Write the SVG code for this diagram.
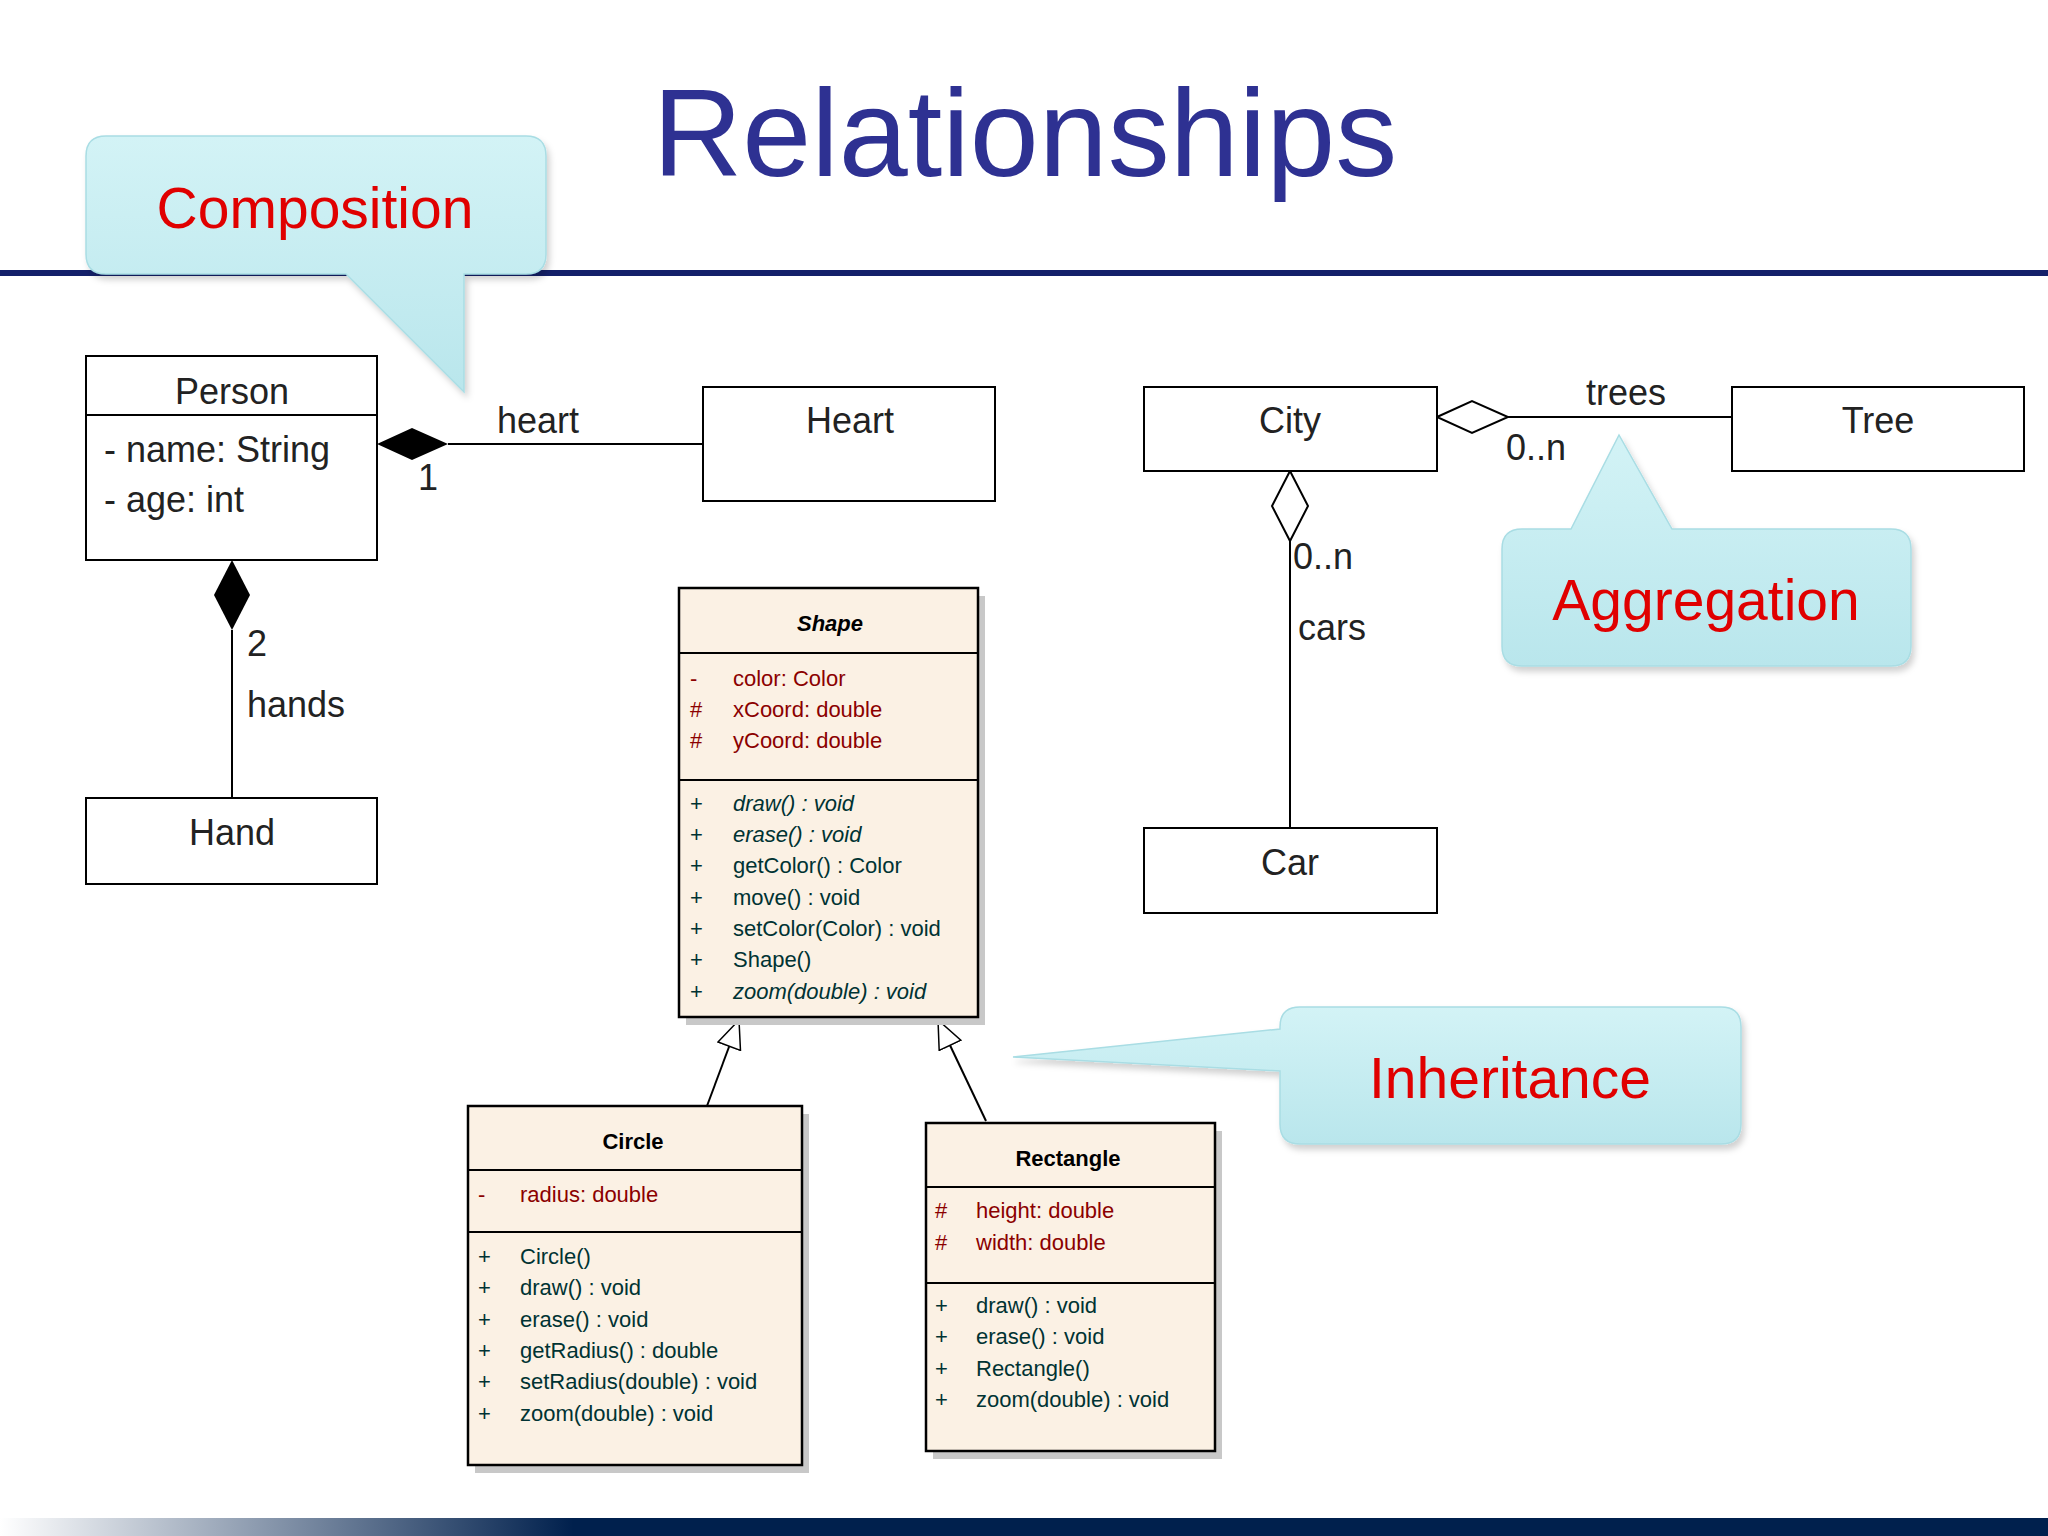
<svg xmlns="http://www.w3.org/2000/svg" width="2048" height="1536" viewBox="0 0 2048 1536">
<defs>
<linearGradient id="bar" x1="0" x2="1" y1="0" y2="0"><stop offset="0" stop-color="#ffffff"/><stop offset="0.28" stop-color="#00204d"/><stop offset="1" stop-color="#00204d"/></linearGradient>
<linearGradient id="call" x1="0" x2="0" y1="0" y2="1"><stop offset="0" stop-color="#d3f3f6"/><stop offset="1" stop-color="#b9e6ec"/></linearGradient>
<marker id="tri" viewBox="0 0 30 26" refX="29" refY="13" markerWidth="30" markerHeight="26" markerUnits="userSpaceOnUse" orient="auto"><path d="M1,1 L29,13 L1,25 Z" fill="#fff" stroke="#000" stroke-width="1.5"/></marker>
<filter id="sh" x="-10%" y="-10%" width="130%" height="130%"><feDropShadow dx="3" dy="5" stdDeviation="3" flood-color="#000" flood-opacity="0.18"/></filter>
</defs>
<style>
text{font-family:"Liberation Sans",Arial,sans-serif}
.box{fill:#fff;stroke:#000;stroke-width:2}
.t{font-size:36px;fill:#222}
.mid{text-anchor:middle}
.co{fill:url(#call);stroke:#a9dde4;stroke-width:1.5}
.cl{font-size:57px;fill:#e00000;text-anchor:middle}
.u{fill:#fbf1e4;stroke:#000;stroke-width:2.5}
.ushadow{fill:#c8c8c8}
.a{font-size:22px;fill:#8b0000}
.m{font-size:22px;fill:#003333}
.h{font-size:22px;font-weight:bold;fill:#000;text-anchor:middle}
.ln{stroke:#000;stroke-width:2;fill:none}
</style>
<rect width="2048" height="1536" fill="#fff"/>
<text x="1025" y="176" font-size="124" fill="#2e3192" text-anchor="middle">Relationships</text>
<rect x="0" y="270" width="2048" height="6" fill="#14206a"/>
<rect x="0" y="1518" width="2048" height="18" fill="url(#bar)"/>

<g id="callout-composition" filter="url(#sh)">
<path class="co" d="M106,136 H526 Q546,136 546,156 V254 Q546,274 526,274 H464 L464,392 L346,274 H106 Q86,274 86,254 V156 Q86,136 106,136 Z"/>
<text class="cl" x="315" y="228">Composition</text>
</g>
<g id="callout-aggregation" filter="url(#sh)">
<path class="co" d="M1522,529 H1571 L1619,435 L1672,529 H1891 Q1911,529 1911,549 V646 Q1911,666 1891,666 H1522 Q1502,666 1502,646 V549 Q1502,529 1522,529 Z"/>
<text class="cl" x="1706" y="620">Aggregation</text>
</g>
<g id="callout-inheritance" filter="url(#sh)">
<path class="co" d="M1300,1007 H1721 Q1741,1007 1741,1027 V1124 Q1741,1144 1721,1144 H1300 Q1280,1144 1280,1124 V1071 L1013,1057 L1280,1029 V1027 Q1280,1007 1300,1007 Z"/>
<text class="cl" x="1510" y="1098">Inheritance</text>
</g>

<g id="connectors">
<line class="ln" x1="448" y1="444" x2="703" y2="444"/>
<path d="M377,444 L412,428 L448,444 L412,460 Z" fill="#000"/>
<text class="t" x="497" y="433">heart</text>
<text class="t" x="418" y="490">1</text>
<line class="ln" x1="232" y1="630" x2="232" y2="798"/>
<path d="M232,560 L250,595 L232,630 L214,595 Z" fill="#000"/>
<text class="t" x="247" y="656">2</text>
<text class="t" x="247" y="717">hands</text>
<line class="ln" x1="1508" y1="417" x2="1732" y2="417"/>
<path d="M1437,417 L1472,401 L1508,417 L1472,433 Z" fill="#fff" stroke="#000" stroke-width="2"/>
<text class="t" x="1626" y="405" text-anchor="middle">trees</text>
<text class="t" x="1506" y="460">0..n</text>
<line class="ln" x1="1290" y1="541" x2="1290" y2="828"/>
<path d="M1290,471 L1308,506 L1290,541 L1272,506 Z" fill="#fff" stroke="#000" stroke-width="2"/>
<text class="t" x="1293" y="569">0..n</text>
<text class="t" x="1298" y="640">cars</text>
<line class="ln" x1="707" y1="1106" x2="739" y2="1020" marker-end="url(#tri)"/>
<line class="ln" x1="986" y1="1121" x2="938" y2="1020" marker-end="url(#tri)"/>
</g>

<g id="person">
<rect class="box" x="86" y="356" width="291" height="204"/>
<line class="ln" x1="86" y1="415" x2="377" y2="415"/>
<text class="t mid" x="232" y="404">Person</text>
<text class="t" x="104" y="462">- name: String</text>
<text class="t" x="104" y="512">- age: int</text>
</g>
<g id="heart"><rect class="box" x="703" y="387" width="292" height="114"/><text class="t mid" x="850" y="433">Heart</text></g>
<g id="hand"><rect class="box" x="86" y="798" width="291" height="86"/><text class="t mid" x="232" y="845">Hand</text></g>
<g id="city"><rect class="box" x="1144" y="387" width="293" height="84"/><text class="t mid" x="1290" y="433">City</text></g>
<g id="tree"><rect class="box" x="1732" y="387" width="292" height="84"/><text class="t mid" x="1878" y="433">Tree</text></g>
<g id="car"><rect class="box" x="1144" y="828" width="293" height="85"/><text class="t mid" x="1290" y="875">Car</text></g>

<g id="shape">
<rect class="ushadow" x="686" y="596" width="299" height="429"/>
<rect class="u" x="679" y="588" width="299" height="429"/>
<line class="ln" x1="679" y1="653" x2="978" y2="653"/>
<line class="ln" x1="679" y1="780" x2="978" y2="780"/>
<text class="h" x="830" y="631" font-style="italic">Shape</text>
<text class="a" x="690" y="686">-</text><text class="a" x="733" y="686">color:  Color</text>
<text class="a" x="690" y="717">#</text><text class="a" x="733" y="717">xCoord:  double</text>
<text class="a" x="690" y="748">#</text><text class="a" x="733" y="748">yCoord:  double</text>
<text class="m" x="690" y="811">+</text><text class="m" x="733" y="811" font-style="italic">draw() : void</text>
<text class="m" x="690" y="842">+</text><text class="m" x="733" y="842" font-style="italic">erase() : void</text>
<text class="m" x="690" y="873">+</text><text class="m" x="733" y="873">getColor() : Color</text>
<text class="m" x="690" y="905">+</text><text class="m" x="733" y="905">move() : void</text>
<text class="m" x="690" y="936">+</text><text class="m" x="733" y="936">setColor(Color) : void</text>
<text class="m" x="690" y="967">+</text><text class="m" x="733" y="967">Shape()</text>
<text class="m" x="690" y="999">+</text><text class="m" x="733" y="999" font-style="italic">zoom(double) : void</text>
</g>
<g id="circle">
<rect class="ushadow" x="475" y="1114" width="334" height="359"/>
<rect class="u" x="468" y="1106" width="334" height="359"/>
<line class="ln" x1="468" y1="1170" x2="802" y2="1170"/>
<line class="ln" x1="468" y1="1232" x2="802" y2="1232"/>
<text class="h" x="633" y="1149">Circle</text>
<text class="a" x="478" y="1202">-</text><text class="a" x="520" y="1202">radius:  double</text>
<text class="m" x="478" y="1264">+</text><text class="m" x="520" y="1264">Circle()</text>
<text class="m" x="478" y="1295">+</text><text class="m" x="520" y="1295">draw() : void</text>
<text class="m" x="478" y="1327">+</text><text class="m" x="520" y="1327">erase() : void</text>
<text class="m" x="478" y="1358">+</text><text class="m" x="520" y="1358">getRadius() : double</text>
<text class="m" x="478" y="1389">+</text><text class="m" x="520" y="1389">setRadius(double) : void</text>
<text class="m" x="478" y="1421">+</text><text class="m" x="520" y="1421">zoom(double) : void</text>
</g>
<g id="rectangle">
<rect class="ushadow" x="933" y="1131" width="289" height="328"/>
<rect class="u" x="926" y="1123" width="289" height="328"/>
<line class="ln" x1="926" y1="1187" x2="1215" y2="1187"/>
<line class="ln" x1="926" y1="1283" x2="1215" y2="1283"/>
<text class="h" x="1068" y="1166">Rectangle</text>
<text class="a" x="935" y="1218">#</text><text class="a" x="976" y="1218">height:  double</text>
<text class="a" x="935" y="1250">#</text><text class="a" x="976" y="1250">width:  double</text>
<text class="m" x="935" y="1313">+</text><text class="m" x="976" y="1313">draw() : void</text>
<text class="m" x="935" y="1344">+</text><text class="m" x="976" y="1344">erase() : void</text>
<text class="m" x="935" y="1376">+</text><text class="m" x="976" y="1376">Rectangle()</text>
<text class="m" x="935" y="1407">+</text><text class="m" x="976" y="1407">zoom(double) : void</text>
</g>
</svg>
